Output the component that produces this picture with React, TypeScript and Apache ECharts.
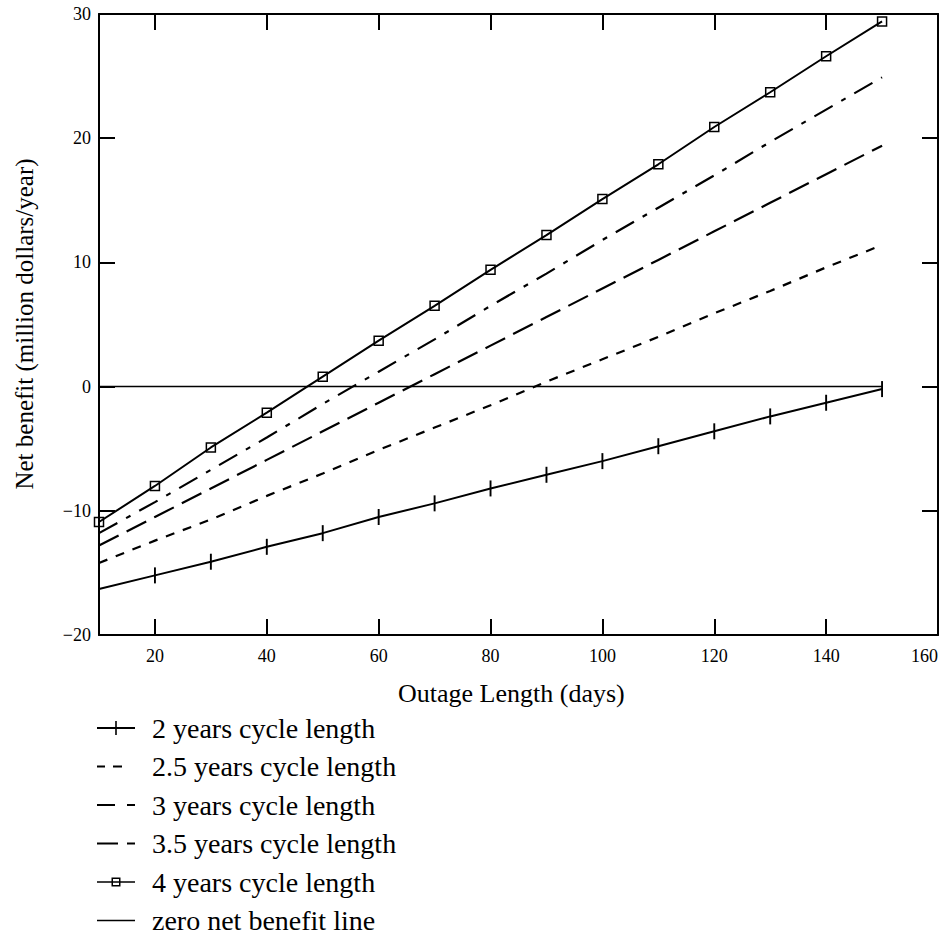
import React, { useEffect, useRef } from "react";
import * as echarts from "echarts";

const days = [10, 20, 30, 40, 50, 60, 70, 80, 90, 100, 110, 120, 130, 140, 150];
const cycle2 = [-16.3, -15.2, -14.1, -12.9, -11.8, -10.5, -9.4, -8.2, -7.1, -6.0, -4.8, -3.6, -2.4, -1.3, -0.2];
const cycle25 = [-14.2, -12.4, -10.7, -8.8, -7.0, -5.1, -3.3, -1.5, 0.4, 2.2, 4.0, 5.9, 7.7, 9.6, 11.4];
const cycle3 = [-12.8, -10.5, -8.2, -5.9, -3.6, -1.3, 1.0, 3.3, 5.6, 7.9, 10.2, 12.5, 14.8, 17.1, 19.4];
const cycle35 = [-11.8, -9.3, -6.7, -4.1, -1.4, 1.2, 3.8, 6.5, 9.1, 11.8, 14.4, 17.0, 19.7, 22.3, 24.9];
const cycle4 = [-10.9, -8.0, -4.9, -2.1, 0.8, 3.7, 6.5, 9.4, 12.2, 15.1, 17.9, 20.9, 23.7, 26.6, 29.4];
const zeroLine = [0, 0, 0, 0, 0, 0, 0, 0, 0, 0, 0, 0, 0, 0, 0];

const X_MIN = 10;
const X_MAX = 160;
const Y_MIN = -20;
const Y_MAX = 30;
const xLabelValues = [20, 40, 60, 80, 100, 120, 140, 160];
const xTickValues = [20, 40, 60, 80, 100, 120, 140];
const yTickValues = [-10, 0, 10, 20];
const seriesNames = [
  "2 years cycle length",
  "2.5 years cycle length",
  "3 years cycle length",
  "3.5 years cycle length",
  "4 years cycle length",
  "zero net benefit line",
];
const xTitle = "Outage Length (days)";
const yTitle = "Net benefit (million dollars/year)";

const FONT = "'Liberation Serif', 'Times New Roman', serif";
const GRID_W = 839;
const GRID_H = 621;
const TICK_LEN = 16;
const TICK_X_UNITS = (TICK_LEN * (X_MAX - X_MIN)) / GRID_W;
const TICK_Y_UNITS = (TICK_LEN * (Y_MAX - Y_MIN)) / GRID_H;

// legend icon shapes (38 x 14 box); corner specks pin the bounding box
const SPECK = "M0,0L0.01,0L0,0.01Z M38,14L37.99,14L38,13.99Z ";
const legendIcons = [
  "M0,6H38V8H0Z M18.2,0H19.8V14H18.2Z",
  "M0,6H8V8H0Z M16,6H25V8H16Z",
  "M0,6H18V8H0Z M30,6H38V8H30Z",
  "M0,6H21V8H0Z M30,6H38V8H30Z",
  "M0,6.2H38V7.8H0Z M14.5,2.5H23.5V11.5H14.5Z M16,4V10H22V4Z",
  "M0,6.2H38V7.8H0Z",
];

function pairs(vals: number[]) {
  return days.map((d, i) => [d, vals[i]]);
}

// inward frame ticks as short mark lines, in data units
const frameTicks = [
  ...xTickValues.map((v) => [{ coord: [v, Y_MIN] }, { coord: [v, Y_MIN + TICK_Y_UNITS] }]),
  ...xTickValues.map((v) => [{ coord: [v, Y_MAX] }, { coord: [v, Y_MAX - TICK_Y_UNITS] }]),
  ...yTickValues.map((v) => [{ coord: [X_MIN, v] }, { coord: [X_MIN + TICK_X_UNITS, v] }]),
  ...yTickValues.map((v) => [{ coord: [X_MAX, v] }, { coord: [X_MAX - TICK_X_UNITS, v] }]),
];

export default function App() {
  const ref = useRef<HTMLDivElement>(null);
  useEffect(() => {
    if (!ref.current) return;
    const chart = echarts.init(ref.current, null, { renderer: "svg" });
    const tickLabel = {
      fontFamily: FONT,
      fontSize: 18,
      color: "#000",
    };
    const mkLine = () => ({ show: true, onZero: false, lineStyle: { color: "#000", width: 2 } });
    const option: any = {
      animation: false,
      backgroundColor: "#fff",
      grid: {
        left: 99,
        top: 14,
        width: GRID_W,
        height: GRID_H,
        containLabel: false,
      },
      xAxis: [
        {
          type: "value",
          min: X_MIN,
          max: X_MAX,
          position: "bottom",
          axisLine: mkLine(),
          axisTick: { show: false },
          axisLabel: { ...tickLabel, margin: 12, customValues: xLabelValues, alignMaxLabel: "right" },
          splitLine: { show: false },
        },
        {
          type: "value",
          min: X_MIN,
          max: X_MAX,
          position: "top",
          axisLine: mkLine(),
          axisTick: { show: false },
          axisLabel: { show: false },
          splitLine: { show: false },
        },
      ],
      yAxis: [
        {
          type: "value",
          min: Y_MIN,
          max: Y_MAX,
          interval: 10,
          position: "left",
          axisLine: mkLine(),
          axisTick: { show: false },
          axisLabel: {
            ...tickLabel,
            margin: 8,
            formatter: (v: number) => (v < 0 ? "\u2212" + Math.abs(v) : String(v)),
          },
          splitLine: { show: false },
        },
        {
          type: "value",
          min: Y_MIN,
          max: Y_MAX,
          interval: 10,
          position: "right",
          axisLine: mkLine(),
          axisTick: { show: false },
          axisLabel: { show: false },
          splitLine: { show: false },
        },
      ],
      legend: {
        orient: "vertical",
        left: 97,
        top: 714,
        height: 240,
        padding: 0,
        itemWidth: 38,
        itemHeight: 14,
        itemGap: 10.5,
        selectedMode: false,
        data: seriesNames.map((n, i) => ({
          name: n,
          icon: "path://" + SPECK + legendIcons[i],
          itemStyle: { color: "#000", borderWidth: 0, borderColor: "rgba(0,0,0,0)" },
        })),
        textStyle: {
          fontFamily: FONT,
          fontSize: 28,
          color: "#000",
          lineHeight: 28,
          padding: [0, 0, 0, 12],
        },
      },
      graphic: [
        {
          type: "text",
          left: 398,
          top: 680,
          style: { text: xTitle, font: `26px ${FONT}`, fill: "#000" },
        },
        {
          type: "text",
          x: 24,
          y: 324,
          rotation: Math.PI / 2,
          style: {
            text: yTitle,
            font: `25px ${FONT}`,
            fill: "#000",
            align: "center",
            verticalAlign: "middle",
          },
        },
      ],
      series: [
        {
          name: seriesNames[0],
          type: "line",
          data: pairs(cycle2),
          symbol: "path://M0,0H1.2V10H0Z",
          symbolKeepAspect: true,
          symbolSize: 16,
          showAllSymbol: true,
          itemStyle: { color: "#000" },
          lineStyle: { color: "#000", width: 2 },
        },
        {
          name: seriesNames[1],
          type: "line",
          data: pairs(cycle25),
          symbol: "none",
          itemStyle: { color: "#000" },
          lineStyle: { color: "#000", width: 2.2, type: [9, 9] },
        },
        {
          name: seriesNames[2],
          type: "line",
          data: pairs(cycle3),
          symbol: "none",
          itemStyle: { color: "#000" },
          lineStyle: { color: "#000", width: 2.2, type: [22, 9] },
        },
        {
          name: seriesNames[3],
          type: "line",
          data: pairs(cycle35),
          symbol: "none",
          itemStyle: { color: "#000" },
          lineStyle: { color: "#000", width: 2.2, type: [21, 10, 5, 10] },
        },
        {
          name: seriesNames[4],
          type: "line",
          data: pairs(cycle4),
          symbol: "rect",
          symbolSize: 9,
          showAllSymbol: true,
          itemStyle: { color: "rgba(0,0,0,0)", borderColor: "#000", borderWidth: 1.5 },
          lineStyle: { color: "#000", width: 2 },
        },
        {
          name: seriesNames[5],
          type: "line",
          data: pairs(zeroLine),
          symbol: "none",
          itemStyle: { color: "#000" },
          lineStyle: { color: "#000", width: 1.5 },
          markLine: {
            silent: true,
            animation: false,
            symbol: ["none", "none"],
            label: { show: false },
            emphasis: { disabled: true },
            lineStyle: { color: "#000", width: 2, type: "solid" },
            data: frameTicks,
          },
        },
      ],
    };
    chart.setOption(option);
    return () => chart.dispose();
  }, []);
  return (
    <div
      ref={ref}
      style={{ position: "absolute", left: 0, top: 0, width: 946, height: 936, background: "#fff" }}
    />
  );
}
